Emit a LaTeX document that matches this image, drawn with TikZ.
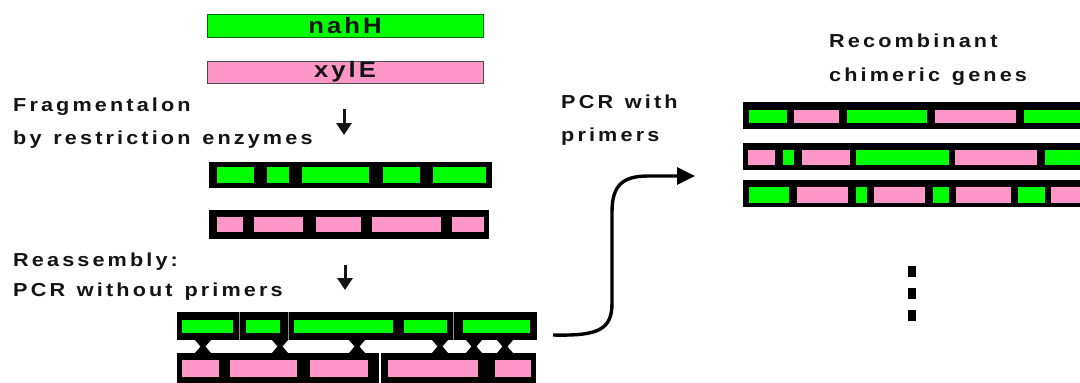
\documentclass[tikz,border=0pt]{standalone}
\usepackage{fontspec}
\usetikzlibrary{arrows.meta}
\newfontfamily\lblfont{Liberation Sans}[LetterSpace=14.5, WordSpace=1.3]
\newfontfamily\genefont{Liberation Sans}[LetterSpace=12]
\newcommand\wide[1]{\scalebox{1.15}[1]{#1}}
\definecolor{geneGreen}{RGB}{0,255,0}
\definecolor{genePink}{RGB}{255,150,200}
\definecolor{ink}{RGB}{20,20,20}

% fill colored pieces inside a strand: y-top, y-bottom, list of x1/x2/color
\newcommand\drawsegs[3]{%
  \foreach \a/\b/\c in {#3} \fill[\c] (\a,#1) rectangle (\b,#2);}

\tikzset{
  caption/.style={anchor=base west, inner sep=0pt, text=ink,
    font={\lblfont\bfseries\fontsize{18.8}{20}\selectfont}},
  genebar/.style={inner sep=0pt, outer sep=0pt, anchor=north west, text=ink,
    font={\genefont\bfseries\fontsize{22.3}{24}\selectfont}},
  strand/.style={fill=black, inner sep=0pt, outer sep=0pt, anchor=north west},
  downarrow/.style={draw=ink, line width=3pt, -{Triangle[length=12pt,width=15pt]}},
  flow/.style={draw=black, line width=3.4pt, -{Triangle[length=18pt,width=17pt]}},
  hinge/.style={fill=black},
  dot/.style={fill=black}
}

\begin{document}
\begin{tikzpicture}[x=1pt,y=-1pt]
  \clip (0,0) rectangle (1080,383);
  \fill[white] (0,0) rectangle (1080,383);

  % parent genes
  \node[genebar, fill=geneGreen, draw=green!45!black, line width=0.6pt,
        minimum width=276pt, minimum height=23pt] (nahH) at (207,14) {\wide{nahH}};
  \node[genebar, fill=genePink, draw=black!70, line width=0.6pt,
        minimum width=276pt, minimum height=22pt] (xylE) at (207,61) {\wide{xylE}};

  % step 1
  \node[caption] (capFrag) at (13,111) {\wide{Fragmentalon}};
  \node[caption] (capEnz) at (13,144) {\wide{by restriction enzymes}};
  \coordinate (arrA1) at (344,109);
  \coordinate (arrA2) at (344,135);
  \draw[downarrow] (arrA1) -- (arrA2);

  % fragments
  \node[strand, minimum width=283pt, minimum height=26pt] (fragG) at (209,162) {};
  \drawsegs{167}{183}{217/254/geneGreen, 267/289/geneGreen, 302/369/geneGreen,
    383/420/geneGreen, 433/486/geneGreen}
  \node[strand, minimum width=280pt, minimum height=29pt] (fragP) at (209,210) {};
  \drawsegs{217}{232}{217/243/genePink, 254/303/genePink, 316/361/genePink,
    372/441/genePink, 452/484/genePink}

  % step 2
  \node[caption] (capRe) at (13,266) {\wide{Reassembly:}};
  \node[caption] (capPCR) at (13,296) {\wide{PCR without primers}};
  \coordinate (arrB1) at (345,265);
  \coordinate (arrB2) at (345,290);
  \draw[downarrow] (arrB1) -- (arrB2);

  % annealed strands
  \node[strand, minimum width=360pt, minimum height=28pt] (annTop) at (177,312) {};
  \drawsegs{320}{333}{182/233/geneGreen, 246/280/geneGreen, 294/393/geneGreen,
    404/447/geneGreen, 463/530/geneGreen}
  \foreach \x in {239,288,453}
    \draw[black!45, line width=0.8pt] (\x,312) -- (\x,340);
  \node[strand, minimum width=359pt, minimum height=40pt] (annBot) at (177,353) {};
  \drawsegs{360}{377}{182/219/genePink, 230/297/genePink, 310/368/genePink,
    388/478/genePink, 495/531/genePink}
  \draw[white, line width=1.6pt] (380,353) -- (380,384);
  \foreach \c in {203,280,357,440,474,505}
    \fill[hinge] (\c-8,340) -- (\c+8,340) -- (\c+2.5,346.5) -- (\c+8,353)
      -- (\c-8,353) -- (\c-2.5,346.5) -- cycle;

  % step 3
  \node[caption] (capWith) at (561,108) {\wide{PCR with}};
  \node[caption] (capPrim) at (561,141) {\wide{primers}};
  \coordinate (flowStart) at (553,335);
  \coordinate (flowEnd) at (695,176);
  \draw[flow] (flowStart) .. controls (598,336) and (612,330) .. (612,303)
    -- (612,212) .. controls (612,186) and (622,176) .. (648,176) -- (flowEnd);

  % chimeric products
  \node[caption] (capRec) at (829,47) {\wide{Recombinant}};
  \node[caption] (capChim) at (829,81) {\wide{chimeric genes}};
  \node[strand, minimum width=345pt, minimum height=27pt] (recA) at (743,102) {};
  \drawsegs{110}{123}{749/787/geneGreen, 794/839/genePink, 847/927/geneGreen,
    935/1016/genePink, 1024/1095/geneGreen}
  \node[strand, minimum width=345pt, minimum height=27pt] (recB) at (743,143) {};
  \drawsegs{150}{165}{748/775/genePink, 783/794/geneGreen, 802/850/genePink,
    856/949/geneGreen, 955/1037/genePink, 1045/1095/geneGreen}
  \node[strand, minimum width=345pt, minimum height=27pt] (recC) at (743,180) {};
  \drawsegs{187}{203}{749/789/geneGreen, 797/848/genePink, 856/867/geneGreen,
    874/925/genePink, 933/949/geneGreen, 956/1011/genePink,
    1018/1045/geneGreen, 1051/1095/genePink}

  % more products
  \fill[dot] (908,266) rectangle (916,277);
  \fill[dot] (908,288) rectangle (916,299);
  \fill[dot] (908,310) rectangle (916,321);
\end{tikzpicture}
\end{document}
